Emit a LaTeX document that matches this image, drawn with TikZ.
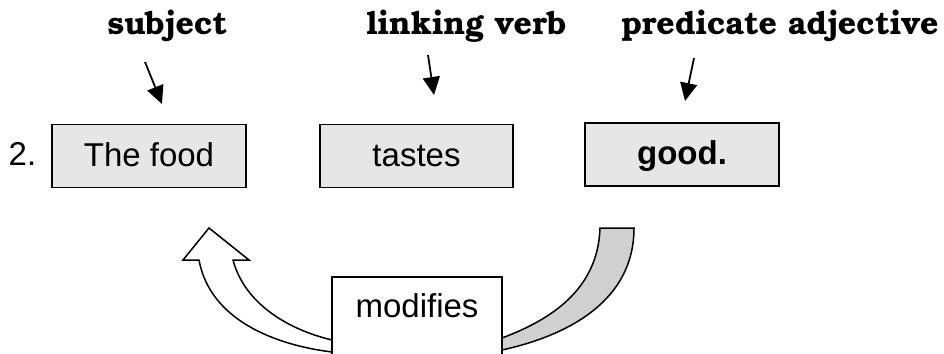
\documentclass[tikz,border=0pt]{standalone}
\usepackage{fontspec}
\setmainfont{Liberation Sans}
\newfontfamily\lblfont{TeX Gyre Bonum}
\usetikzlibrary{arrows.meta}
\definecolor{boxgray}{HTML}{E6E6E6}
\definecolor{arrgray}{HTML}{D0D0D0}
\begin{document}
\begin{tikzpicture}[x=1pt,y=-1pt,
  wordbox/.style={draw, line width=1.5pt, fill=boxgray, minimum width=194pt, minimum height=63pt,
    inner sep=0pt, text height=24pt, text depth=4pt, font=\fontsize{33}{39}\selectfont},
  toplabel/.style={anchor=base, font=\lblfont\bfseries\fontsize{32}{38}\selectfont},
  pointer/.style={line width=1.8pt, -{Triangle[length=18pt,width=17pt]}},
  bigarrow/.style={draw, line width=1.5pt, line join=miter}]
\useasboundingbox (0,0) rectangle (944,353);

% top labels
\node[toplabel] (lsub) at (167.5,35) {subject};
\node[toplabel] (llink) at (466.5,35) {linking verb};
\node[toplabel] (lpred) at (780,35) {predicate adjective};

% boxes
\node[anchor=base, font=\fontsize{33}{39}\selectfont] (num) at (22.5,165) {2.};
\node[wordbox] (food) at (149,156) {The food};
\node[wordbox, minimum width=193pt] (tastes) at (416.5,156) {tastes};
\node[wordbox] (good) at (682,154.5) {\bfseries good.};

% pointer arrows
\coordinate (s1) at (145,62);  \coordinate (s2) at (162,104);
\coordinate (k1) at (428,55);  \coordinate (k2) at (434,95);
\coordinate (p1) at (694,58);  \coordinate (p2) at (685,101);
\draw[pointer] (s1) -- (s2);
\draw[pointer] (k1) -- (k2);
\draw[pointer] (p1) -- (p2);

% curved arrows
\path[bigarrow, fill=white] (209,228) -- (249,260) -- (233,260)
  .. controls (245,305) and (290,330) .. (332,340) -- (332,352)
  .. controls (275,345) and (210,320) .. (199,260) -- (183,260) -- cycle;
\path[bigarrow, fill=arrgray] (600,228) -- (634,228)
  .. controls (634,300) and (570,335) .. (502,350) -- (502,338)
  .. controls (550,320) and (598,290) .. (600,228) -- cycle;

% modifies box
\node[draw, line width=1.5pt, fill=white, anchor=north, minimum width=170pt, minimum height=84pt,
  inner sep=0pt, text height=24pt, text depth=26pt, font=\fontsize{33}{39}\selectfont]
  (mod) at (417,276) {modifies};
\end{tikzpicture}
\end{document}
